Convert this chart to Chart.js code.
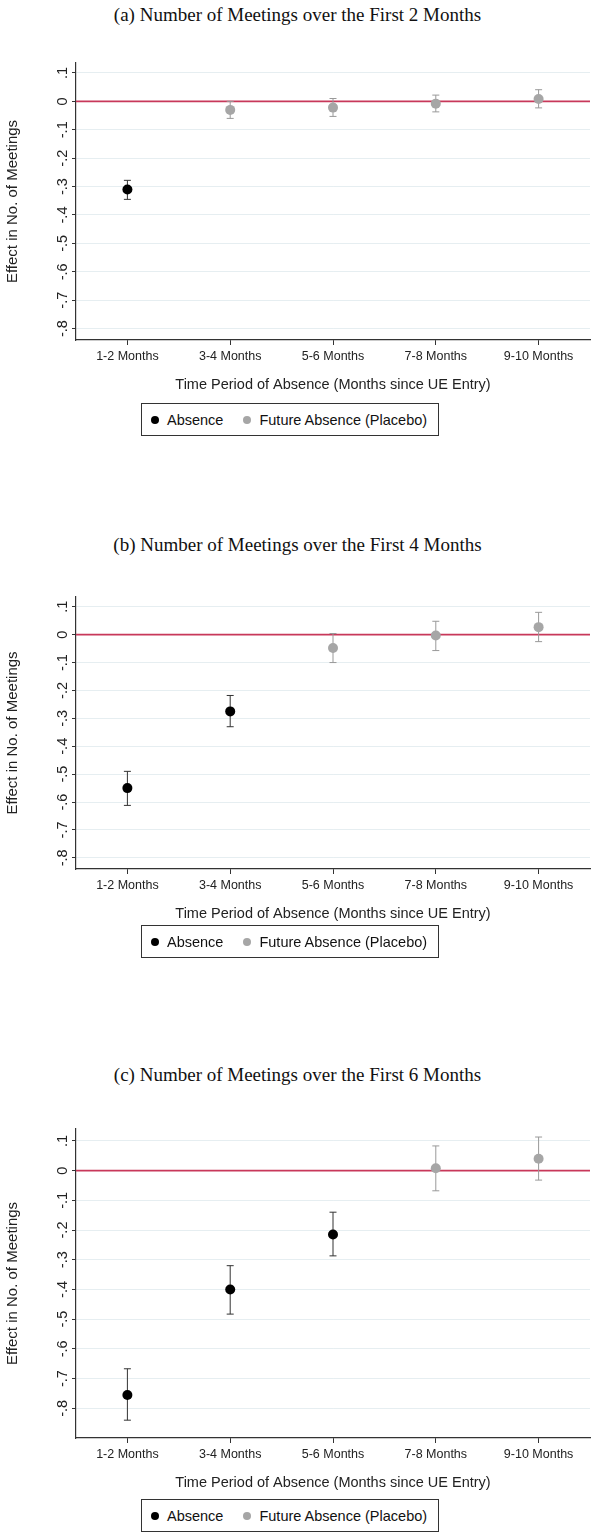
<!DOCTYPE html>
<html><head><meta charset="utf-8">
<script src="https://cdn.jsdelivr.net/npm/chart.js@4"></script>
<style>
body{margin:0;background:#fff;width:595px;height:1535px;position:relative;font-family:"Liberation Sans",Arial,sans-serif}
.ttl{position:absolute;left:0;width:595px;text-align:center;font-family:"Liberation Serif","DejaVu Serif",serif;font-size:19px;color:#111}
.box{position:absolute;width:595px;left:0}
.leg{position:absolute;left:141px;width:298px;height:33px;border:1px solid #333;font-size:14.5px;display:flex;align-items:center;box-sizing:border-box;padding-left:9px;color:#111}
.dot{display:inline-block;width:8px;height:8px;border-radius:50%;margin-right:8px}
</style></head><body>
<div class="ttl" style="top:4px">(a) Number of Meetings over the First 2 Months</div>
<div class="box" style="top:50px;height:348px"><canvas id="ca"></canvas></div>
<div class="leg" style="top:403px"><span class="dot" style="background:#000"></span>Absence<span style="width:20px"></span><span class="dot" style="background:#a6a6a6"></span>Future Absence (Placebo)</div>

<div class="ttl" style="top:534px">(b) Number of Meetings over the First 4 Months</div>
<div class="box" style="top:584px;height:343px"><canvas id="cb"></canvas></div>
<div class="leg" style="top:925px"><span class="dot" style="background:#000"></span>Absence<span style="width:20px"></span><span class="dot" style="background:#a6a6a6"></span>Future Absence (Placebo)</div>

<div class="ttl" style="top:1064px">(c) Number of Meetings over the First 6 Months</div>
<div class="box" style="top:1116px;height:380px"><canvas id="cc"></canvas></div>
<div class="leg" style="top:1499px"><span class="dot" style="background:#000"></span>Absence<span style="width:20px"></span><span class="dot" style="background:#a6a6a6"></span>Future Absence (Placebo)</div>
<script>
var periods = ["1-2 Months", "3-4 Months", "5-6 Months", "7-8 Months", "9-10 Months"];
var yTicks = [0.1, 0, -0.1, -0.2, -0.3, -0.4, -0.5, -0.6, -0.7, -0.8];

// panel a
var absA = [-0.31, null, null, null, null];
var absALo = [-0.345, null, null, null, null];
var absAHi = [-0.278, null, null, null, null];
var plcA = [null, -0.03, -0.022, -0.008, 0.008];
var plcALo = [null, -0.06, -0.053, -0.037, -0.023];
var plcAHi = [null, 0.0, 0.01, 0.022, 0.041];
// panel b
var absB = [-0.55, -0.275, null, null, null];
var absBLo = [-0.612, -0.33, null, null, null];
var absBHi = [-0.49, -0.218, null, null, null];
var plcB = [null, null, -0.048, -0.003, 0.027];
var plcBLo = [null, null, -0.1, -0.057, -0.025];
var plcBHi = [null, null, 0.004, 0.048, 0.08];
// panel c
var absC = [-0.755, -0.40, -0.215, null, null];
var absCLo = [-0.84, -0.483, -0.287, null, null];
var absCHi = [-0.667, -0.32, -0.14, null, null];
var plcC = [null, null, null, 0.008, 0.04];
var plcCLo = [null, null, null, -0.068, -0.032];
var plcCHi = [null, null, null, 0.083, 0.113];

var extras = {
  id: 'extras',
  beforeDatasetsDraw: function (chart) {
    var c = chart.ctx, y = chart.scales.y, x = chart.scales.x, a = chart.chartArea;
    c.save();
    // zero line
    c.strokeStyle = '#c8385a'; c.lineWidth = 1.6;
    c.beginPath(); c.moveTo(a.left, y.getPixelForValue(0)); c.lineTo(a.right, y.getPixelForValue(0)); c.stroke();
    // rotated y tick labels
    c.fillStyle = '#222'; c.font = '14.5px "Liberation Sans", Arial';
    c.textAlign = 'center'; c.textBaseline = 'bottom';
    yTicks.forEach(function (v) {
      var s = v === 0 ? '0' : (v < 0 ? '-' : '') + String(Math.abs(v).toFixed(1)).replace(/^0/, '');
      c.save(); c.translate(a.left - 6, y.getPixelForValue(v)); c.rotate(-Math.PI / 2);
      c.fillText(s, 0, 0); c.restore();
    });
    // error bars
    chart.data.datasets.forEach(function (ds) {
      c.strokeStyle = ds.barColor; c.lineWidth = 1;
      ds.data.forEach(function (v, i) {
        if (v === null) return;
        var px = x.getPixelForValue(i), lo = y.getPixelForValue(ds.lo[i]), hi = y.getPixelForValue(ds.hi[i]);
        c.beginPath();
        c.moveTo(px, lo); c.lineTo(px, hi);
        c.moveTo(px - 3.5, lo); c.lineTo(px + 3.5, lo);
        c.moveTo(px - 3.5, hi); c.lineTo(px + 3.5, hi);
        c.stroke();
      });
    });
    c.restore();
  }
};

function panel(id, abs, absLo, absHi, plc, plcLo, plcHi, ymin, ymax) {
  new Chart(document.getElementById(id), {
    type: 'line',
    data: {
      labels: periods,
      datasets: [
        { data: abs, lo: absLo, hi: absHi, barColor: '#333', showLine: false, pointRadius: 5, pointBackgroundColor: '#000', pointBorderWidth: 0 },
        { data: plc, lo: plcLo, hi: plcHi, barColor: '#999', showLine: false, pointRadius: 5, pointBackgroundColor: '#a6a6a6', pointBorderWidth: 0 }
      ]
    },
    options: {
      responsive: true, maintainAspectRatio: false, animation: false,
      layout: { padding: { top: 13, right: 0 } },
      plugins: { legend: { display: false }, tooltip: { enabled: false } },
      scales: {
        x: {
          offset: true,
          grid: { drawOnChartArea: false, color: '#333', tickLength: 5 },
          border: { display: true, color: '#333', width: 1.2 },
          ticks: { color: '#222', font: { size: 12.5, family: 'Liberation Sans' }, maxRotation: 0, padding: 4 },
          title: { display: true, text: 'Time Period of Absence (Months since UE Entry)', color: '#222', font: { size: 14.5, family: 'Liberation Sans' }, padding: { top: 9 } },
          afterFit: function (s) { s.height = 58; }
        },
        y: {
          min: ymin, max: ymax,
          afterBuildTicks: function (s) { s.ticks = yTicks.map(function (v) { return { value: v }; }); },
          grid: { color: '#e6eef1', tickLength: 4, tickColor: '#333' },
          border: { color: '#333', width: 1.2 },
          ticks: { display: false },
          title: { display: true, text: 'Effect in No. of Meetings', color: '#222', font: { size: 15, family: 'Liberation Sans' } },
          afterFit: function (s) { s.width = 76; }
        }
      }
    },
    plugins: [extras]
  });
}

panel('ca', absA, absALo, absAHi, plcA, plcALo, plcAHi, -0.84, 0.135);
panel('cb', absB, absBLo, absBHi, plcB, plcBLo, plcBHi, -0.84, 0.135);
panel('cc', absC, absCLo, absCHi, plcC, plcCLo, plcCHi, -0.9, 0.14);
</script>
</body></html>
